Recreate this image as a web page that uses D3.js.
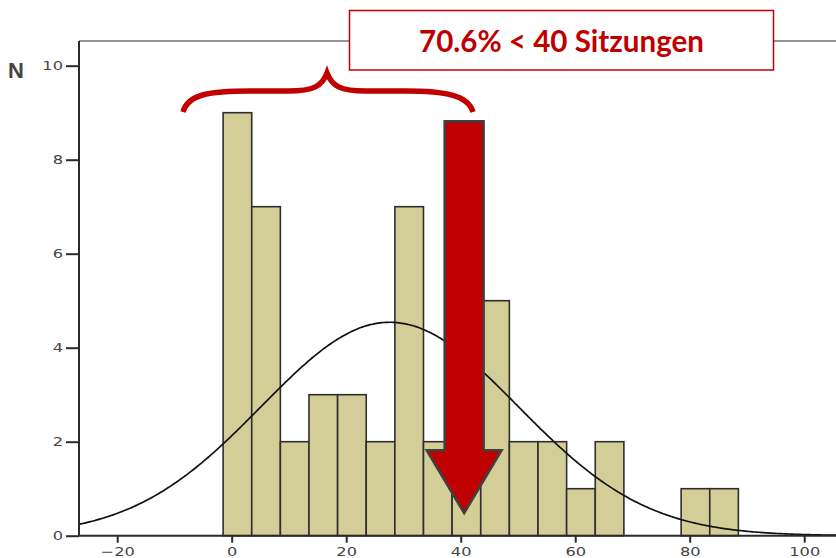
<!DOCTYPE html>
<html><head><meta charset="utf-8">
<script src="https://cdn.jsdelivr.net/npm/d3@7"></script>
<style>
html,body{margin:0;padding:0;background:#fff;}
svg{display:block;}
.tick text{font-family:"DejaVu Sans",sans-serif;font-size:12.5px;fill:#444;transform-box:fill-box;}
.yax .tick text{transform-origin:100% 50%;transform:scaleX(1.3);}
.xax .tick text{transform-origin:50% 50%;transform:scaleX(1.3);}
</style>
</head><body>
<svg id="c" width="836" height="558"></svg>
<script>
// ---- data ----
const binStarts = [-1.5, 3.5, 8.5, 13.5, 18.5, 23.5, 28.5, 33.5, 38.5, 43.5, 48.5, 53.5, 58.5, 63.5, 68.5, 73.5, 78.5, 83.5];
const binWidth = 5;
const counts    = [9, 7, 2, 3, 3, 2, 7, 2, 2, 5, 2, 2, 1, 2, 0, 0, 1, 1];
const xTicks = [-20, 0, 20, 40, 60, 80, 100];
const yTicks = [0, 2, 4, 6, 8, 10];
const fitMean = 27.6, fitSd = 22.4, fitN = 51;
const annotationText = "70.6% < 40 Sitzungen";
const arrowAt = 40.6;

const svg = d3.select("#c");
const red = "#c00000";

const x = d3.scaleLinear().domain([-26.67, 105.55]).range([79, 836]);
const y = d3.scaleLinear().domain([0, 10]).range([535.7, 65.7]);
const yTop = y.invert(41);

svg.append("defs").append("clipPath").attr("id","clip")
  .append("rect").attr("x",x.range()[0]).attr("y",y(yTop)).attr("width",x.range()[1]-x.range()[0]).attr("height",y(0)-y(yTop));

// top frame line
svg.append("line").attr("x1",x.range()[0]).attr("x2",x.range()[1]).attr("y1",y(yTop)).attr("y2",y(yTop))
  .attr("stroke","#707070").attr("stroke-width",1.5);

// bars
svg.append("g").selectAll("rect")
  .data(counts.map((c,i)=>({x0:binStarts[i], c})).filter(d=>d.c>0))
  .join("rect")
  .attr("x", d=>x(d.x0)).attr("width", d=>x(d.x0+binWidth)-x(d.x0))
  .attr("y", d=>y(d.c)).attr("height", d=>y(0)-y(d.c))
  .attr("fill","#d3ce98").attr("stroke","#2e2e2e").attr("stroke-width",1.6);

// fitted normal curve
const pdf = v => fitN*binWidth*Math.exp(-0.5*((v-fitMean)/fitSd)**2)/(fitSd*Math.sqrt(2*Math.PI));
const xs = d3.range(0, 401).map(i => x.domain()[0] + i*(x.domain()[1]-x.domain()[0])/400);
svg.append("path").attr("clip-path","url(#clip)")
  .attr("d", d3.line().x(v=>x(v)).y(v=>y(pdf(v))).curve(d3.curveBasis)(xs))
  .attr("fill","none").attr("stroke","#111").attr("stroke-width",1.7);

// axes
const yax = svg.append("g").attr("class","yax").attr("transform",`translate(${x.range()[0]},0)`)
  .call(d3.axisLeft(y).tickValues(yTicks).tickSize(13).tickPadding(3).tickFormat(d3.format("d")));
const xax = svg.append("g").attr("class","xax").attr("transform",`translate(0,${y(0)})`)
  .call(d3.axisBottom(x).tickValues(xTicks).tickSize(7).tickPadding(4).tickFormat(d3.format("d")));
yax.select(".domain").attr("d",`M0,${y(yTop)}V${y(0)}`);
xax.select(".domain").attr("d",`M${x.range()[0]},0H${x.range()[1]}`);
svg.selectAll(".domain").attr("stroke","#2a2a2a").attr("stroke-width",2);
svg.selectAll(".tick line").attr("stroke","#2a2a2a").attr("stroke-width",2);

// N label
svg.append("text").attr("x",8).attr("y",78).text("N")
  .attr("font-family","Liberation Sans, Arial, sans-serif").attr("font-weight","bold")
  .attr("font-size",22).attr("fill","#444");

// brace
svg.append("path")
  .attr("d","M183,112 C188,94 210,91 250,91 L288,91 C314,91 322,86 327,73 C332,86 340,91 366,91 L405,91 C445,91 468,95 473,112")
  .attr("fill","none").attr("stroke",red).attr("stroke-width",5.5);

// arrow
const ax = x(arrowAt), hw = 19.5, hh = 37.5;
const arrowPts = [[ax-hw,y(8.82)],[ax+hw,y(8.82)],[ax+hw,y(1.82)],[ax+hh,y(1.82)],[ax,y(0.48)],[ax-hh,y(1.82)],[ax-hw,y(1.82)]];
svg.append("polygon").attr("points",arrowPts.map(p=>p.join(",")).join(" "))
  .attr("fill",red).attr("stroke","#404040").attr("stroke-width",2.5).attr("stroke-linejoin","miter");

// text box
svg.append("rect").attr("x",349.5).attr("y",10.5).attr("width",424).attr("height",59.5)
  .attr("fill","#fff").attr("stroke",red).attr("stroke-width",1.5);
svg.append("text").attr("x",561.5).attr("y",52).attr("text-anchor","middle")
  .attr("font-family","Lato, 'Open Sans', sans-serif").attr("font-weight","bold").attr("font-size",30)
  .attr("fill",red).attr("textLength",285).attr("lengthAdjust","spacingAndGlyphs").text(annotationText);
</script>
</body></html>
